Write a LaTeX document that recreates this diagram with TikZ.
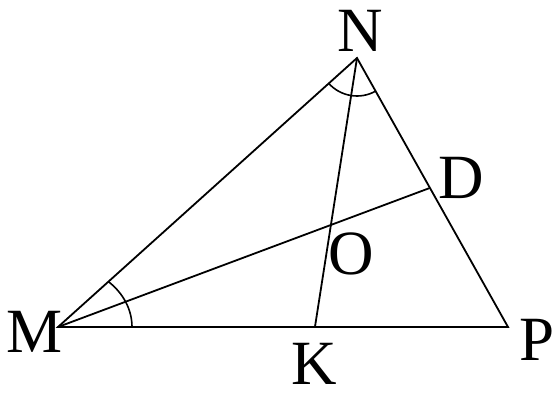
\documentclass[tikz,border=0pt]{standalone}
\usepackage{fontspec}
\setmainfont{Liberation Serif}
\usepackage{tikz}
\usetikzlibrary{calc,intersections}

\begin{document}
\begin{tikzpicture}[x=1pt, y=1pt, line width=1.8pt,
    every node/.style={font=\fontsize{63}{63}\selectfont, inner sep=0pt}]
  \useasboundingbox (0,0) rectangle (554,392);
  % Points
  \coordinate (M) at (58,65);
  \coordinate (N) at (357,334);
  \coordinate (P) at (508,65);
  \coordinate (K) at ($(M)!0.571!(P)$);
  \coordinate (D) at ($(N)!0.483!(P)$);
  % Sides
  \draw (M) -- (N) -- (P) -- cycle;
  \draw[name path=nk] (N) -- (K);
  \draw[name path=md] (M) -- (D);
  \path[name intersections={of=nk and md, by=O}];
  % Angles
  \draw[line width=1.6pt] ($(M)+(74,0)$) arc[start angle=0, end angle=47, x radius=74, y radius=62];
  \draw[line width=1.6pt] ($(N)+(222:38)$) arc[start angle=222, end angle=299.3, radius=38];
  % Labels
  \node (lM) at (34.5,60) {M};
  \node (lN) at (360,361) {N};
  \node (lP) at (537,52) {P};
  \node (lK) at (314,28) {K};
  \node (lD) at (461,214) {D};
  \node (lO) at (351,138) {O};
\end{tikzpicture}
\end{document}
